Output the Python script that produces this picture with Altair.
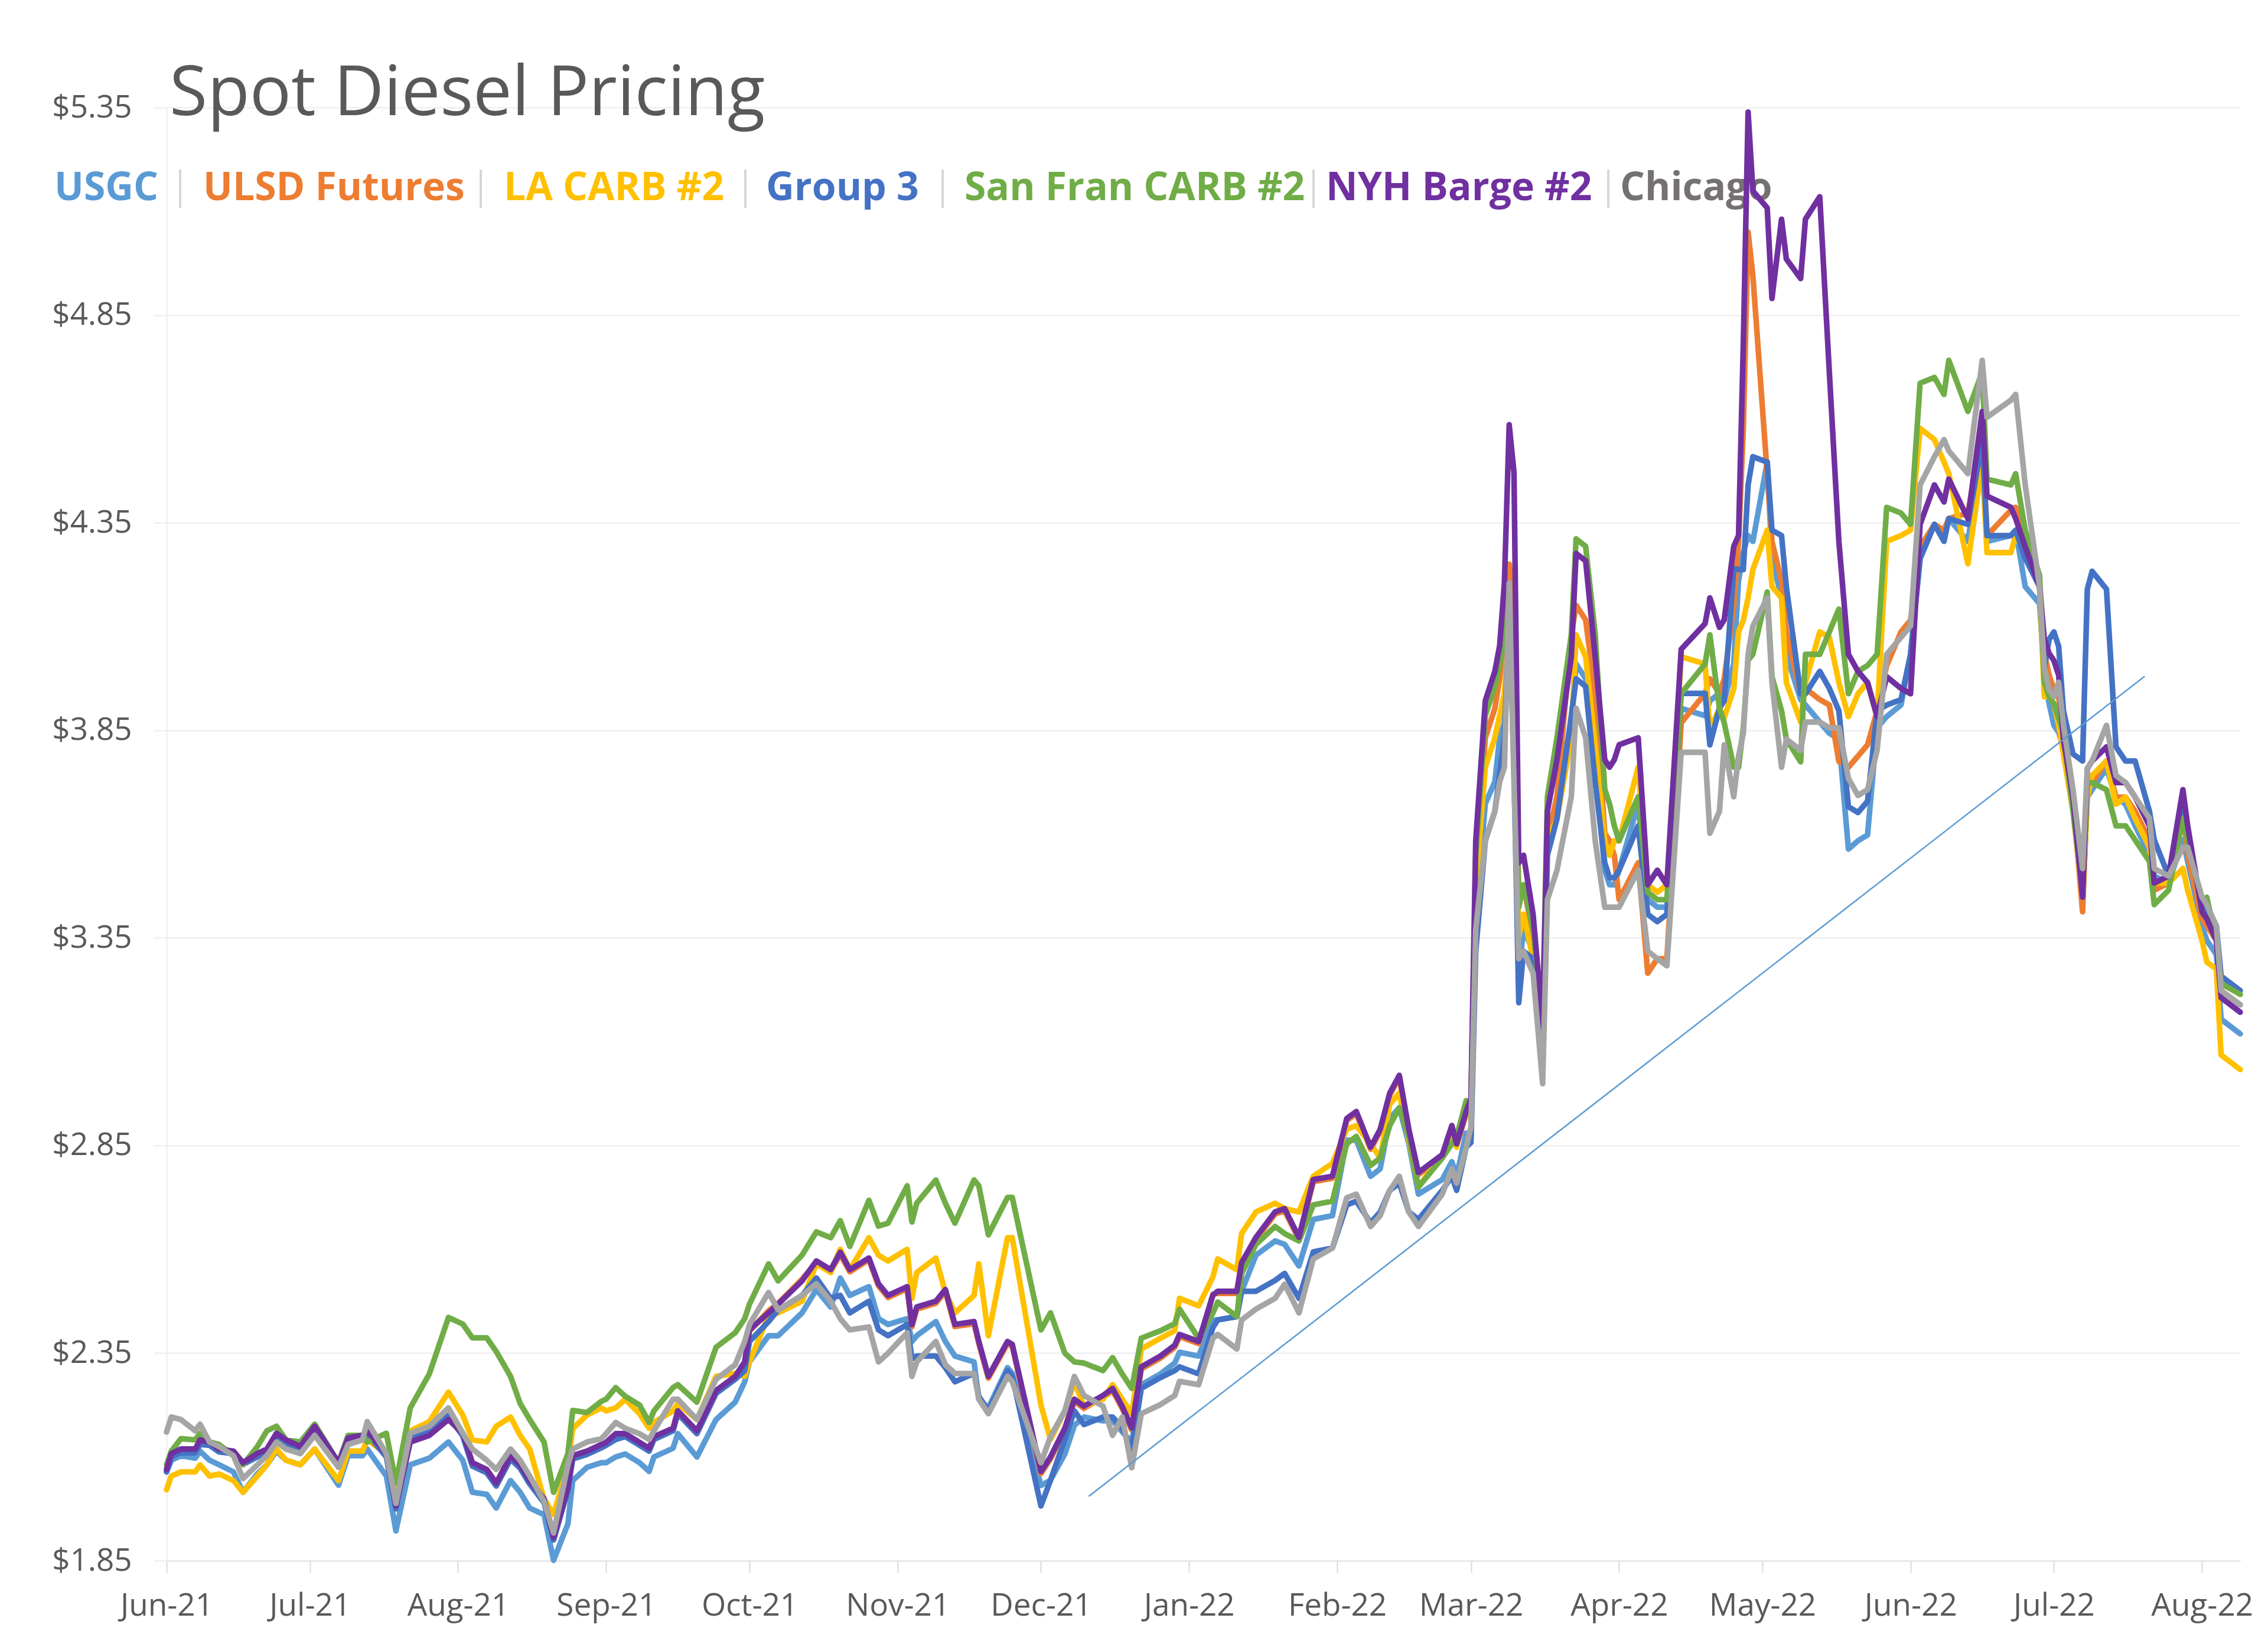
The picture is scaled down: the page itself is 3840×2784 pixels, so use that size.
import altair as alt
import pandas as pd

# ---------------- data ----------------
DATES = [
    # Jun - Aug 2021
    "2021-06-01", "2021-06-02", "2021-06-04", "2021-06-07", "2021-06-08", "2021-06-10", "2021-06-12",
    "2021-06-15", "2021-06-17", "2021-06-20", "2021-06-22", "2021-06-24", "2021-06-26", "2021-06-29",
    "2021-07-02", "2021-07-07", "2021-07-09", "2021-07-12", "2021-07-13", "2021-07-17", "2021-07-19",
    "2021-07-22", "2021-07-26", "2021-07-30", "2021-08-02", "2021-08-04", "2021-08-07", "2021-08-09",
    "2021-08-12", "2021-08-14", "2021-08-16", "2021-08-19", "2021-08-21", "2021-08-24", "2021-08-25",
    "2021-08-28", "2021-08-31",
    # Sep - early Dec 2021
    "2021-09-01", "2021-09-03", "2021-09-05", "2021-09-08", "2021-09-10", "2021-09-11", "2021-09-15",
    "2021-09-16", "2021-09-20", "2021-09-24", "2021-09-28", "2021-09-30", "2021-10-01", "2021-10-05",
    "2021-10-07", "2021-10-12", "2021-10-15", "2021-10-18", "2021-10-20", "2021-10-22", "2021-10-26",
    "2021-10-28", "2021-10-30", "2021-11-03", "2021-11-04", "2021-11-05", "2021-11-09", "2021-11-11",
    "2021-11-13", "2021-11-17", "2021-11-18", "2021-11-20", "2021-11-24", "2021-11-25", "2021-12-01",
    "2021-12-03", "2021-12-06", "2021-12-08",
    # Dec 2021 - Feb 2022
    "2021-12-10", "2021-12-14", "2021-12-16", "2021-12-18", "2021-12-20", "2021-12-22", "2021-12-26",
    "2021-12-29", "2021-12-30", "2022-01-03", "2022-01-06", "2022-01-07", "2022-01-11", "2022-01-12",
    "2022-01-15", "2022-01-19", "2022-01-21", "2022-01-24", "2022-01-27", "2022-01-31", "2022-02-03",
    "2022-02-05", "2022-02-08", "2022-02-10", "2022-02-12", "2022-02-14", "2022-02-16", "2022-02-18",
    "2022-02-23", "2022-02-25", "2022-02-26", "2022-02-28",
    # Mar - Apr 2022
    "2022-03-01", "2022-03-02", "2022-03-04", "2022-03-06", "2022-03-07", "2022-03-08", "2022-03-09",
    "2022-03-10", "2022-03-11", "2022-03-12", "2022-03-14", "2022-03-16", "2022-03-17", "2022-03-19",
    "2022-03-22", "2022-03-23", "2022-03-25", "2022-03-27", "2022-03-29", "2022-03-30", "2022-03-31",
    "2022-04-01", "2022-04-05", "2022-04-07", "2022-04-09", "2022-04-11", "2022-04-14", "2022-04-19",
    "2022-04-20", "2022-04-22", "2022-04-23", "2022-04-25",
    # late Apr - Jun 2022
    "2022-04-26", "2022-04-27", "2022-04-28", "2022-04-29", "2022-05-02", "2022-05-03", "2022-05-05",
    "2022-05-06", "2022-05-09", "2022-05-10", "2022-05-13", "2022-05-15", "2022-05-17", "2022-05-19",
    "2022-05-21", "2022-05-23", "2022-05-25", "2022-05-27", "2022-05-30", "2022-06-01", "2022-06-03",
    "2022-06-06", "2022-06-08", "2022-06-09", "2022-06-13", "2022-06-16", "2022-06-17", "2022-06-22",
    "2022-06-23", "2022-06-25", "2022-06-28",
    # late Jun - Aug 2022
    "2022-06-29", "2022-06-30", "2022-07-01", "2022-07-02", "2022-07-03", "2022-07-05", "2022-07-07",
    "2022-07-08", "2022-07-09", "2022-07-12", "2022-07-14", "2022-07-16", "2022-07-18", "2022-07-21",
    "2022-07-22", "2022-07-25", "2022-07-28", "2022-07-29", "2022-08-01", "2022-08-02", "2022-08-04",
    "2022-08-05", "2022-08-09",
]

USGC = [
    2.064, 2.092, 2.103, 2.097, 2.114, 2.092, 2.081, 2.064, 2.015, 2.059, 2.081, 2.114, 2.092, 2.081, 2.119,
    2.032, 2.103, 2.103, 2.119, 2.054, 1.922, 2.081, 2.097, 2.136, 2.092, 2.015, 2.010, 1.977, 2.043, 2.015,
    1.977, 1.961, 1.851, 1.939, 2.043, 2.075, 2.086,
    2.086, 2.100, 2.107, 2.086, 2.065, 2.100, 2.121, 2.156, 2.100, 2.190, 2.232, 2.281, 2.329, 2.392, 2.392,
    2.447, 2.503, 2.461, 2.531, 2.489, 2.510, 2.433, 2.419, 2.433, 2.378, 2.392, 2.426, 2.378, 2.343, 2.329,
    2.239, 2.218, 2.315, 2.301, 2.031, 2.044, 2.107, 2.176,
    2.196, 2.187, 2.187, 2.161, 2.135, 2.274, 2.300, 2.326, 2.352, 2.343, 2.430, 2.430, 2.438, 2.499, 2.586,
    2.620, 2.612, 2.560, 2.672, 2.681, 2.863, 2.863, 2.776, 2.794, 2.915, 2.941, 2.854, 2.733, 2.768, 2.811,
    2.776, 2.880,
    2.875, 3.407, 3.673, 3.726, 3.832, 3.868, 4.150, 3.832, 3.265, 3.371, 3.318, 3.088, 3.584, 3.690, 3.868,
    4.010, 3.974, 3.761, 3.513, 3.478, 3.478, 3.513, 3.673, 3.442, 3.424, 3.424, 3.903, 3.885, 3.921, 3.939,
    3.921, 4.010,
    4.210, 4.278, 4.319, 4.305, 4.496, 4.264, 4.169, 4.033, 3.924, 3.911, 3.870, 3.843, 3.829, 3.564, 3.584,
    3.598, 3.856, 3.883, 3.911, 4.033, 4.264, 4.346, 4.319, 4.360, 4.305, 4.536, 4.305, 4.319, 4.332, 4.196,
    4.155,
    3.983, 3.914, 3.862, 3.845, 3.810, 3.672, 3.430, 3.689, 3.707, 3.758, 3.689, 3.672, 3.620, 3.551, 3.499,
    3.482, 3.586, 3.534, 3.379, 3.344, 3.310, 3.154, 3.119,
]

ULSD_FUTURES = [
    2.068, 2.104, 2.115, 2.116, 2.137, 2.132, 2.116, 2.110, 2.084, 2.104, 2.115, 2.154, 2.138, 2.121, 2.170,
    2.083, 2.143, 2.149, 2.160, 2.104, 1.979, 2.140, 2.155, 2.195, 2.153, 2.082, 2.066, 2.034, 2.099, 2.077,
    2.039, 1.995, 1.903, 2.023, 2.099, 2.110, 2.126,
    2.130, 2.150, 2.150, 2.130, 2.116, 2.144, 2.164, 2.206, 2.158, 2.255, 2.290, 2.325, 2.403, 2.452, 2.470,
    2.528, 2.568, 2.547, 2.588, 2.546, 2.575, 2.512, 2.484, 2.505, 2.414, 2.456, 2.470, 2.498, 2.414, 2.421,
    2.373, 2.290, 2.373, 2.366, 2.060, 2.095, 2.164, 2.234,
    2.217, 2.243, 2.260, 2.217, 2.165, 2.312, 2.338, 2.364, 2.390, 2.373, 2.492, 2.494, 2.494, 2.563, 2.624,
    2.685, 2.693, 2.624, 2.763, 2.771, 2.910, 2.927, 2.841, 2.884, 2.971, 3.014, 2.884, 2.780, 2.823, 2.893,
    2.849, 2.927,
    2.945, 3.513, 3.832, 3.903, 3.974, 4.045, 4.250, 4.150, 3.442, 3.478, 3.353, 3.123, 3.584, 3.690, 4.080,
    4.151, 4.116, 3.939, 3.602, 3.584, 3.549, 3.442, 3.531, 3.265, 3.300, 3.300, 3.868, 3.939, 3.974, 3.939,
    3.974, 4.151,
    4.305, 4.577, 5.050, 4.945, 4.468, 4.305, 4.210, 4.087, 3.938, 3.951, 3.924, 3.911, 3.775, 3.761, 3.788,
    3.815, 3.897, 4.006, 4.087, 4.115, 4.291, 4.346, 4.332, 4.360, 4.373, 4.564, 4.319, 4.380, 4.387, 4.305,
    4.210,
    4.035, 3.983, 3.948, 3.931, 3.828, 3.689, 3.413, 3.707, 3.724, 3.776, 3.689, 3.689, 3.655, 3.586, 3.465,
    3.482, 3.655, 3.551, 3.396, 3.379, 3.344, 3.223, 3.189,
]

LA_CARB = [
    2.021, 2.054, 2.064, 2.064, 2.081, 2.054, 2.059, 2.043, 2.015, 2.054, 2.081, 2.119, 2.092, 2.081, 2.119,
    2.043, 2.114, 2.114, 2.141, 2.108, 1.999, 2.163, 2.185, 2.256, 2.201, 2.141, 2.136, 2.174, 2.196, 2.152,
    2.119, 1.999, 1.961, 2.081, 2.168, 2.201, 2.218,
    2.211, 2.218, 2.239, 2.204, 2.169, 2.183, 2.211, 2.228, 2.190, 2.294, 2.301, 2.294, 2.329, 2.440, 2.447,
    2.475, 2.565, 2.544, 2.600, 2.551, 2.628, 2.586, 2.572, 2.600, 2.482, 2.544, 2.579, 2.496, 2.447, 2.489,
    2.565, 2.392, 2.628, 2.628, 2.225, 2.142, 2.211, 2.281,
    2.222, 2.239, 2.274, 2.239, 2.204, 2.360, 2.386, 2.404, 2.482, 2.464, 2.534, 2.577, 2.551, 2.638, 2.690,
    2.711, 2.698, 2.690, 2.776, 2.807, 2.889, 2.898, 2.854, 2.820, 2.950, 2.976, 2.863, 2.750, 2.828, 2.872,
    2.846, 2.958,
    2.910, 3.478, 3.761, 3.832, 3.885, 3.939, 4.100, 3.939, 3.353, 3.407, 3.300, 3.105, 3.584, 3.637, 3.832,
    4.080, 4.027, 3.815, 3.584, 3.549, 3.584, 3.584, 3.761, 3.478, 3.460, 3.478, 4.027, 4.010, 3.850, 3.903,
    3.880, 3.950,
    4.087, 4.115, 4.169, 4.237, 4.332, 4.196, 4.169, 3.965, 3.870, 3.965, 4.087, 4.074, 3.965, 3.883, 3.938,
    3.965, 3.883, 4.305, 4.319, 4.332, 4.577, 4.550, 4.496, 4.468, 4.251, 4.496, 4.278, 4.278, 4.319, 4.278,
    4.196,
    3.931, 3.931, 3.914, 3.862, 3.793, 3.655, 3.448, 3.689, 3.741, 3.776, 3.672, 3.689, 3.638, 3.568, 3.482,
    3.482, 3.517, 3.465, 3.344, 3.292, 3.275, 3.068, 3.033,
]

GROUP_3 = [
    2.064, 2.100, 2.110, 2.110, 2.130, 2.128, 2.112, 2.108, 2.082, 2.100, 2.110, 2.150, 2.133, 2.118, 2.165,
    2.080, 2.140, 2.145, 2.155, 2.100, 1.975, 2.148, 2.160, 2.200, 2.150, 2.078, 2.062, 2.030, 2.095, 2.073,
    2.035, 1.990, 1.900, 2.020, 2.095, 2.106, 2.122,
    2.128, 2.142, 2.149, 2.128, 2.114, 2.142, 2.163, 2.204, 2.156, 2.253, 2.287, 2.308, 2.378, 2.426, 2.454,
    2.489, 2.531, 2.482, 2.489, 2.447, 2.475, 2.406, 2.392, 2.419, 2.336, 2.343, 2.343, 2.315, 2.281, 2.301,
    2.246, 2.211, 2.308, 2.294, 1.982, 2.044, 2.142, 2.211,
    2.178, 2.196, 2.196, 2.170, 2.118, 2.265, 2.291, 2.308, 2.317, 2.300, 2.412, 2.430, 2.438, 2.499, 2.499,
    2.525, 2.542, 2.482, 2.594, 2.603, 2.707, 2.716, 2.664, 2.690, 2.742, 2.759, 2.690, 2.672, 2.742, 2.776,
    2.742, 2.846,
    2.857, 3.318, 3.584, 3.655, 3.744, 3.832, 4.150, 3.761, 3.194, 3.318, 3.300, 3.070, 3.549, 3.637, 3.885,
    3.974, 3.956, 3.726, 3.531, 3.495, 3.495, 3.513, 3.620, 3.407, 3.389, 3.407, 3.939, 3.939, 3.815, 3.903,
    3.921, 4.240,
    4.237, 4.237, 4.441, 4.509, 4.496, 4.332, 4.319, 4.196, 3.938, 3.938, 3.992, 3.951, 3.897, 3.666, 3.652,
    3.679, 3.897, 3.911, 3.924, 4.033, 4.264, 4.346, 4.305, 4.360, 4.346, 4.550, 4.319, 4.319, 4.332, 4.264,
    4.196,
    4.000, 4.069, 4.087, 4.052, 3.897, 3.793, 3.776, 4.190, 4.233, 4.190, 3.810, 3.776, 3.776, 3.655, 3.586,
    3.499, 3.655, 3.586, 3.430, 3.413, 3.379, 3.258, 3.223,
]

SAN_FRAN_CARB = [
    2.081, 2.114, 2.144, 2.141, 2.157, 2.136, 2.130, 2.103, 2.081, 2.125, 2.163, 2.174, 2.141, 2.136, 2.179,
    2.086, 2.152, 2.152, 2.136, 2.157, 2.037, 2.218, 2.300, 2.436, 2.420, 2.387, 2.387, 2.354, 2.294, 2.229,
    2.190, 2.136, 2.015, 2.108, 2.212, 2.207, 2.234,
    2.239, 2.267, 2.246, 2.225, 2.183, 2.211, 2.267, 2.274, 2.232, 2.364, 2.399, 2.433, 2.468, 2.565, 2.524,
    2.586, 2.642, 2.628, 2.669, 2.607, 2.718, 2.656, 2.663, 2.753, 2.666, 2.711, 2.767, 2.711, 2.663, 2.767,
    2.753, 2.635, 2.725, 2.725, 2.406, 2.447, 2.350, 2.329,
    2.326, 2.308, 2.339, 2.300, 2.265, 2.386, 2.404, 2.421, 2.456, 2.386, 2.447, 2.473, 2.438, 2.542, 2.612,
    2.655, 2.638, 2.620, 2.707, 2.716, 2.854, 2.872, 2.802, 2.820, 2.898, 2.941, 2.872, 2.750, 2.820, 2.854,
    2.872, 2.958,
    2.945, 3.549, 3.885, 3.956, 4.010, 4.080, 4.150, 4.000, 3.424, 3.478, 3.371, 3.159, 3.690, 3.832, 4.080,
    4.311, 4.293, 4.080, 3.708, 3.673, 3.620, 3.584, 3.690, 3.460, 3.442, 3.442, 3.939, 4.010, 4.080, 3.903,
    3.868, 3.761,
    3.761, 3.856, 4.019, 4.033, 4.183, 3.979, 3.897, 3.829, 3.774, 4.033, 4.033, 4.087, 4.142, 3.938, 3.992,
    4.006, 4.033, 4.387, 4.373, 4.346, 4.686, 4.700, 4.659, 4.741, 4.618, 4.713, 4.455, 4.441, 4.468, 4.332,
    4.223,
    3.966, 3.931, 3.914, 3.879, 3.845, 3.655, 3.465, 3.724, 3.724, 3.707, 3.620, 3.620, 3.586, 3.534, 3.430,
    3.465, 3.638, 3.586, 3.430, 3.448, 3.344, 3.240, 3.214,
]

NYH_BARGE = [
    2.070, 2.108, 2.119, 2.119, 2.141, 2.136, 2.119, 2.114, 2.086, 2.108, 2.119, 2.157, 2.141, 2.125, 2.174,
    2.086, 2.146, 2.152, 2.163, 2.108, 1.982, 2.136, 2.152, 2.190, 2.157, 2.086, 2.070, 2.037, 2.103, 2.081,
    2.043, 1.999, 1.906, 2.026, 2.103, 2.114, 2.130,
    2.135, 2.156, 2.156, 2.135, 2.121, 2.149, 2.169, 2.211, 2.163, 2.260, 2.294, 2.329, 2.406, 2.447, 2.468,
    2.524, 2.572, 2.551, 2.593, 2.551, 2.579, 2.517, 2.489, 2.510, 2.419, 2.461, 2.475, 2.503, 2.419, 2.426,
    2.378, 2.294, 2.378, 2.371, 2.065, 2.100, 2.169, 2.239,
    2.222, 2.248, 2.265, 2.222, 2.170, 2.317, 2.343, 2.369, 2.395, 2.378, 2.490, 2.499, 2.499, 2.568, 2.629,
    2.690, 2.698, 2.629, 2.768, 2.776, 2.915, 2.932, 2.846, 2.889, 2.976, 3.019, 2.889, 2.785, 2.828, 2.898,
    2.854, 2.932,
    2.963, 3.584, 3.921, 3.992, 4.054, 4.205, 4.586, 4.471, 3.531, 3.549, 3.407, 3.141, 3.655, 3.779, 4.027,
    4.276, 4.258, 4.027, 3.779, 3.761, 3.779, 3.815, 3.832, 3.478, 3.513, 3.478, 4.045, 4.107, 4.169, 4.098,
    4.116, 4.293,
    4.319, 4.781, 5.339, 5.149, 5.108, 4.890, 5.081, 4.985, 4.938, 5.081, 5.135, 4.713, 4.305, 4.033, 3.992,
    3.965, 3.883, 3.979, 3.951, 3.938, 4.346, 4.441, 4.400, 4.455, 4.360, 4.618, 4.414, 4.387, 4.360, 4.292,
    4.196,
    4.069, 4.035, 4.018, 3.983, 3.828, 3.689, 3.448, 3.758, 3.776, 3.810, 3.724, 3.724, 3.689, 3.620, 3.482,
    3.499, 3.707, 3.620, 3.413, 3.396, 3.344, 3.206, 3.171,
]

CHICAGO = [
    2.160, 2.196, 2.190, 2.163, 2.179, 2.136, 2.125, 2.103, 2.048, 2.081, 2.103, 2.136, 2.119, 2.108, 2.152,
    2.075, 2.130, 2.141, 2.185, 2.108, 1.988, 2.157, 2.174, 2.218, 2.157, 2.119, 2.092, 2.070, 2.119, 2.092,
    2.054, 1.993, 1.917, 2.081, 2.119, 2.136, 2.144,
    2.156, 2.183, 2.169, 2.156, 2.142, 2.163, 2.239, 2.239, 2.190, 2.287, 2.322, 2.378, 2.419, 2.496, 2.454,
    2.489, 2.517, 2.475, 2.433, 2.406, 2.413, 2.329, 2.350, 2.399, 2.294, 2.329, 2.378, 2.322, 2.301, 2.301,
    2.239, 2.204, 2.294, 2.281, 2.086, 2.149, 2.211, 2.294,
    2.248, 2.222, 2.152, 2.196, 2.074, 2.204, 2.226, 2.248, 2.282, 2.274, 2.386, 2.395, 2.360, 2.430, 2.456,
    2.482, 2.516, 2.447, 2.577, 2.603, 2.724, 2.733, 2.655, 2.681, 2.742, 2.776, 2.690, 2.655, 2.733, 2.794,
    2.759, 2.846,
    2.894, 3.371, 3.584, 3.655, 3.726, 3.761, 4.205, 3.726, 3.300, 3.318, 3.265, 2.999, 3.442, 3.513, 3.690,
    3.903, 3.832, 3.584, 3.424, 3.424, 3.424, 3.424, 3.513, 3.318, 3.300, 3.283, 3.797, 3.797, 3.602, 3.655,
    3.815, 3.690,
    3.788, 3.843, 4.033, 4.101, 4.169, 3.965, 3.761, 3.829, 3.802, 3.870, 3.870, 3.856, 3.856, 3.734, 3.693,
    3.707, 3.802, 4.033, 4.074, 4.101, 4.441, 4.509, 4.550, 4.523, 4.468, 4.741, 4.604, 4.645, 4.659, 4.441,
    4.196,
    4.000, 3.948, 3.931, 3.966, 3.862, 3.707, 3.517, 3.758, 3.776, 3.862, 3.741, 3.724, 3.689, 3.638, 3.517,
    3.499, 3.568, 3.568, 3.448, 3.430, 3.379, 3.223, 3.189,
]

SERIES_NAMES = ["USGC", "ULSD Futures", "LA CARB #2", "Group 3", "San Fran CARB #2", "NYH Barge #2", "Chicago"]
SERIES_VALUES = [USGC, ULSD_FUTURES, LA_CARB, GROUP_3, SAN_FRAN_CARB, NYH_BARGE, CHICAGO]
LINE_COLORS = ["#5B9BD5", "#ED7D31", "#FFC000", "#4472C4", "#70AD47", "#7030A0", "#A5A5A5"]
LEGEND_COLORS = ["#5B9BD5", "#ED7D31", "#FFC000", "#4472C4", "#70AD47", "#7030A0", "#767171"]

TREND_DATES = ["2021-12-11", "2022-07-20"]
TREND_VALUES = [2.005, 3.98]

Y_TICKS = [1.85, 2.35, 2.85, 3.35, 3.85, 4.35, 4.85, 5.35]
TITLE = "Spot Diesel Pricing"

for name, vals in zip(SERIES_NAMES, SERIES_VALUES):
    assert len(vals) == len(DATES), (name, len(vals), len(DATES))

# ---------------- layout ----------------
W, H = 3511, 2461
FONT = "Open Sans"
TEXT_GREY = "#595959"
GRID = "#EBEBEB"

LEGEND_X = [-190, 62, 571, 1015, 1351, 1963, 2461]
SEP_X = [23, 532, 980, 1314, 1942, 2441]

month_ticks = []
for y, m in [(2021, 6), (2021, 7), (2021, 8), (2021, 9), (2021, 10), (2021, 11), (2021, 12),
             (2022, 1), (2022, 2), (2022, 3), (2022, 4), (2022, 5), (2022, 6), (2022, 7), (2022, 8)]:
    month_ticks.append(alt.DateTime(year=y, month=m, date=1, utc=True))

x_scale = alt.Scale(
    type="utc",
    domain=[alt.DateTime(year=2021, month=6, date=1, utc=True),
            alt.DateTime(year=2022, month=8, date=9, utc=True)],
)
y_scale = alt.Scale(domain=[1.85, 5.35], nice=False, zero=False)

x_axis = alt.Axis(
    values=month_ticks,
    labelExpr="utcFormat(datum.value, '%b-%y')",
    title=None, grid=False,
    labelFont=FONT, labelFontSize=53, labelColor=TEXT_GREY, labelPadding=30, labelLimit=0,
    tickSize=20, tickColor="#D9D9D9", tickWidth=2,
    domainColor="#E3E3E3", domainWidth=2, labelFlush=False, labelOverlap=False,
)
y_axis = alt.Axis(
    values=Y_TICKS, format="$.2f", title=None,
    grid=True, gridColor=GRID, gridWidth=2,
    labelFont=FONT, labelFontSize=53, labelColor=TEXT_GREY, labelPadding=37, labelLimit=0,
    tickSize=22, tickColor=GRID, tickWidth=2,
    domainColor="#EDEDED", domainWidth=2, labelOverlap=False,
)

layers = []

# title
layers.append(
    alt.Chart(pd.DataFrame({"t": [TITLE]})).mark_text(
        align="left", baseline="alphabetic", font=FONT, fontSize=117, color=TEXT_GREY
    ).encode(x=alt.value(5), y=alt.value(13), text="t:N")
)

# legend labels
for name, col, lx in zip(SERIES_NAMES, LEGEND_COLORS, LEGEND_X):
    layers.append(
        alt.Chart(pd.DataFrame({"t": [name]})).mark_text(
            align="left", baseline="alphabetic", font=FONT, fontSize=66, fontWeight="bold", color=col
        ).encode(x=alt.value(lx), y=alt.value(157), text="t:N")
    )
for sx in SEP_X:
    layers.append(
        alt.Chart(pd.DataFrame({"t": [0]})).mark_rule(color="#D6D6D6", strokeWidth=4).encode(
            x=alt.value(sx), y=alt.value(105), y2=alt.value(170)
        )
    )

# series lines (drawn in legend order, Chicago on top)
for name, vals, col in zip(SERIES_NAMES, SERIES_VALUES, LINE_COLORS):
    df = pd.DataFrame({"date": DATES, "price": vals, "series": name})
    layers.append(
        alt.Chart(df).mark_line(
            color=col, strokeWidth=9.5, strokeJoin="round", strokeCap="round"
        ).encode(
            x=alt.X("date:T", scale=x_scale, axis=x_axis),
            y=alt.Y("price:Q", scale=y_scale, axis=y_axis),
        )
    )

# trend line
trend_df = pd.DataFrame({"date": TREND_DATES, "price": TREND_VALUES})
layers.append(
    alt.Chart(trend_df).mark_line(color="#5B9BD5", strokeWidth=2.5).encode(
        x=alt.X("date:T", scale=x_scale, axis=x_axis),
        y=alt.Y("price:Q", scale=y_scale, axis=y_axis),
    )
)

chart = alt.layer(*layers).properties(
    width=W, height=H,
    padding={"left": 274, "top": 174, "right": 30, "bottom": 110},
    autosize=alt.AutoSizeParams(type="none"),
    background="white",
).configure_view(stroke=None)

chart.save("out.html", embed_options={"renderer": "svg", "actions": False})
